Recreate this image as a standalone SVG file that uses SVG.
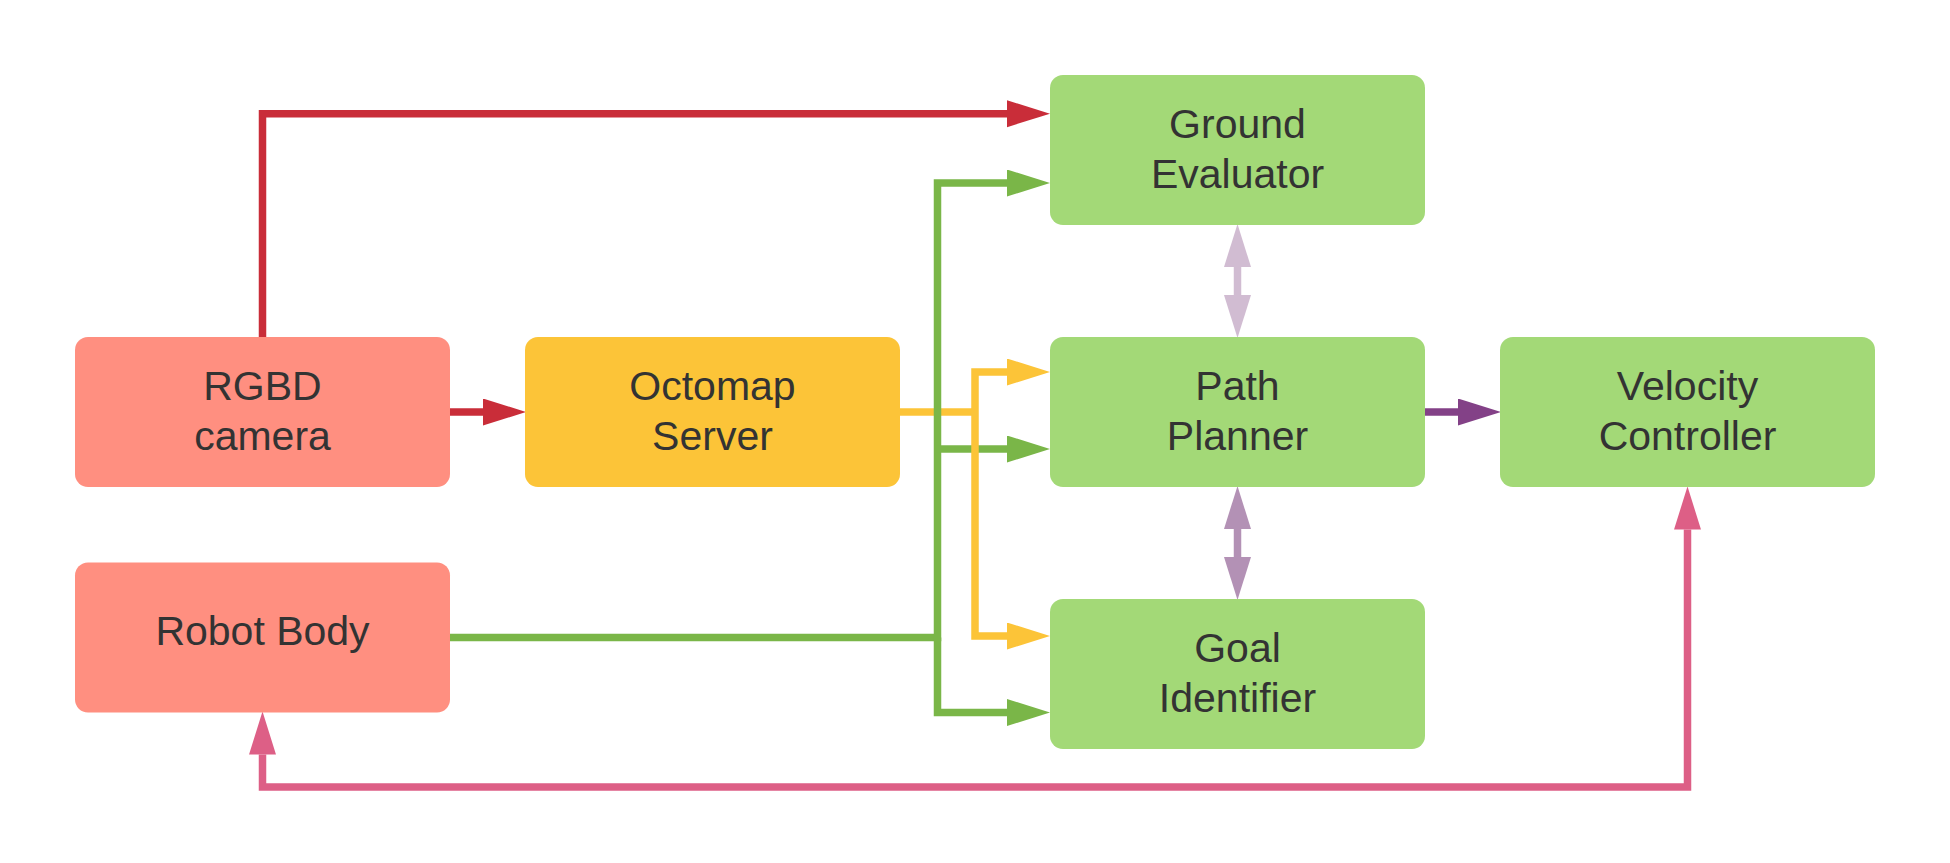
<svg xmlns="http://www.w3.org/2000/svg" width="1950" height="863" viewBox="0 0 1950 863">
<style>
.box{stroke:none}
.salmon{fill:#ff8f80}
.yellow{fill:#fcc438}
.green{fill:#a3d977}
text{font-family:"Liberation Sans",Arial,sans-serif;font-size:41px;fill:#333333;text-anchor:middle}
.c{fill:none;stroke-width:7.5;stroke-linejoin:miter;stroke-linecap:butt}
</style>
<defs>
<marker id="aRed" markerUnits="userSpaceOnUse" markerWidth="44" markerHeight="28" refX="0" refY="13.5" orient="auto-start-reverse" viewBox="0 0 44 28"><path d="M0,0 L43,13.5 L0,27 Z" fill="#c92d39"/></marker>
<marker id="aGreen" markerUnits="userSpaceOnUse" markerWidth="44" markerHeight="28" refX="0" refY="13.5" orient="auto-start-reverse" viewBox="0 0 44 28"><path d="M0,0 L43,13.5 L0,27 Z" fill="#7ab648"/></marker>
<marker id="aYellow" markerUnits="userSpaceOnUse" markerWidth="44" markerHeight="28" refX="0" refY="13.5" orient="auto-start-reverse" viewBox="0 0 44 28"><path d="M0,0 L43,13.5 L0,27 Z" fill="#fcc438"/></marker>
<marker id="aPurple" markerUnits="userSpaceOnUse" markerWidth="44" markerHeight="28" refX="0" refY="13.5" orient="auto-start-reverse" viewBox="0 0 44 28"><path d="M0,0 L43,13.5 L0,27 Z" fill="#834187"/></marker>
<marker id="aLilac" markerUnits="userSpaceOnUse" markerWidth="44" markerHeight="28" refX="0" refY="13.5" orient="auto-start-reverse" viewBox="0 0 44 28"><path d="M0,0 L43,13.5 L0,27 Z" fill="#d1bcd2"/></marker>
<marker id="aMauve" markerUnits="userSpaceOnUse" markerWidth="44" markerHeight="28" refX="0" refY="13.5" orient="auto-start-reverse" viewBox="0 0 44 28"><path d="M0,0 L43,13.5 L0,27 Z" fill="#b391b5"/></marker>
<marker id="aPink" markerUnits="userSpaceOnUse" markerWidth="44" markerHeight="28" refX="0" refY="13.5" orient="auto-start-reverse" viewBox="0 0 44 28"><path d="M0,0 L43,13.5 L0,27 Z" fill="#dd5f86"/></marker>
</defs>
<rect x="0" y="0" width="1950" height="863" fill="#ffffff"/>
<g id="connectors">
<path class="c" stroke="#c92d39" d="M262.5,337 V113.7 H1007" marker-end="url(#aRed)"/>
<path class="c" stroke="#c92d39" d="M450,412 H483" marker-end="url(#aRed)"/>
<path class="c" stroke="#fcc438" d="M900,412 H975"/>
<path class="c" stroke="#7ab648" d="M450,637.5 H937.5 V183 H1007" marker-end="url(#aGreen)"/>
<path class="c" stroke="#7ab648" d="M937.5,637.5 V712.5 H1007" marker-end="url(#aGreen)"/>
<path class="c" stroke="#7ab648" d="M937.5,449 H1007" marker-end="url(#aGreen)"/>
<path class="c" stroke="#fcc438" d="M975,412 V372 H1007" marker-end="url(#aYellow)"/>
<path class="c" stroke="#fcc438" d="M975,412 V636 H1007" marker-end="url(#aYellow)"/>
<path class="c" stroke="#834187" d="M1425,412 H1458" marker-end="url(#aPurple)"/>
<path class="c" stroke="#d1bcd2" d="M1237.5,267 V295" marker-start="url(#aLilac)" marker-end="url(#aLilac)"/>
<path class="c" stroke="#b391b5" d="M1237.5,529 V557" marker-start="url(#aMauve)" marker-end="url(#aMauve)"/>
<path class="c" stroke="#dd5f86" d="M1687.5,529.5 V787 H262.5 V754.5" marker-start="url(#aPink)" marker-end="url(#aPink)"/>
</g>
<g id="rgbd-camera">
<rect class="box salmon" x="75" y="337" width="375" height="150" rx="13"/>
<text x="262.5" y="400">RGBD</text>
<text x="262.5" y="450">camera</text>
</g>
<g id="octomap-server">
<rect class="box yellow" x="525" y="337" width="375" height="150" rx="13"/>
<text x="712.5" y="400">Octomap</text>
<text x="712.5" y="450">Server</text>
</g>
<g id="robot-body">
<rect class="box salmon" x="75" y="562.5" width="375" height="150" rx="13"/>
<text x="262.5" y="644.5">Robot Body</text>
</g>
<g id="ground-evaluator">
<rect class="box green" x="1050" y="75" width="375" height="150" rx="13"/>
<text x="1237.5" y="137.7">Ground</text>
<text x="1237.5" y="187.7">Evaluator</text>
</g>
<g id="path-planner">
<rect class="box green" x="1050" y="337" width="375" height="150" rx="13"/>
<text x="1237.5" y="400">Path</text>
<text x="1237.5" y="450">Planner</text>
</g>
<g id="goal-identifier">
<rect class="box green" x="1050" y="599" width="375" height="150" rx="13"/>
<text x="1237.5" y="662">Goal</text>
<text x="1237.5" y="712">Identifier</text>
</g>
<g id="velocity-controller">
<rect class="box green" x="1500" y="337" width="375" height="150" rx="13"/>
<text x="1687.5" y="400">Velocity</text>
<text x="1687.5" y="450">Controller</text>
</g>
</svg>
